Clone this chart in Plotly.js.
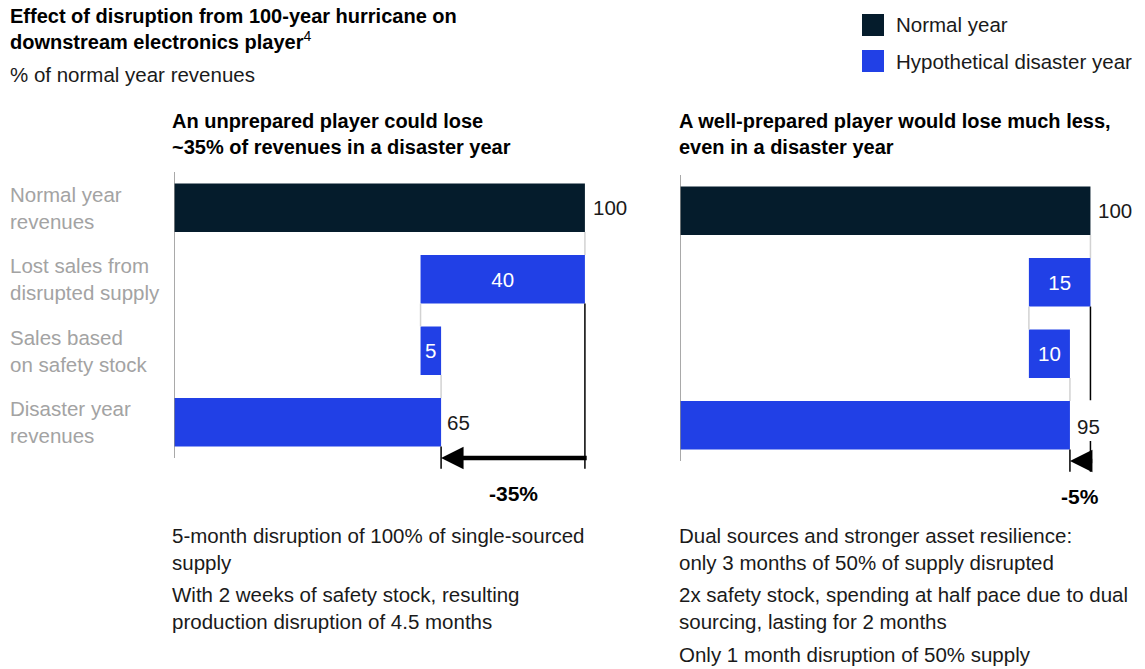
<!DOCTYPE html>
<html><head><meta charset="utf-8">
<script src="https://cdn.plot.ly/plotly-3.0.1.min.js"></script>
<style>html,body{margin:0;padding:0;background:#fff}#chart{width:1145px;height:669px}</style>
</head><body><div id="chart"></div>
<script>
// ---- data ----
const categories = ["Normal year<br>revenues", "Lost sales from<br>disrupted supply", "Sales based<br>on safety stock", "Disaster year<br>revenues"];
const unpreparedValues = [100, 40, 5, 65];   // normal, lost, safety stock, disaster
const preparedValues = [100, 15, 10, 95];
const unpreparedChange = "-35%";
const preparedChange = "-5%";
const seriesNames = ["Normal year", "Hypothetical disaster year"];
const panelTitles = [
  "<b>An unprepared player could lose<br>~35% of revenues in a disaster year</b>",
  "<b>A well-prepared player would lose much less,<br>even in a disaster year</b>"
];
const notesLeft = [
  "5-month disruption of 100% of single-sourced<br>supply",
  "With 2 weeks of safety stock, resulting<br>production disruption of 4.5 months"
];
const notesRight = [
  "Dual sources and stronger asset resilience:<br>only 3 months of 50% of supply disrupted",
  "2x safety stock, spending at half pace due to dual<br>sourcing, lasting for 2 months",
  "Only 1 month disruption of 50% supply"
];

// ---- style ----
const NAVY = "#051c2c", BLUE = "#2140e6", TXT = "#1a1a1a", GRAY = "#a3a3a3";
const FONT = "Liberation Sans, Arial, sans-serif";
const FS = 20.5;
const W = 1145, H = 669;
const px = v => v / W, py = v => 1 - v / H;
const BW = 0.68;

const traces = [], shapes = [], annotations = [];

function panel(values, change, xa, ya, changeTop, valueLabelBelow) {
  const xr = xa, yr = ya;
  const normal = values[0], lost = values[1], safety = values[2], disaster = values[3];
  const bases = [normal - lost, normal - lost, 0];
  const yIdx = [0, 1, 2, 3];
  traces.push({
    type: "bar", orientation: "h", xaxis: xr, yaxis: yr,
    y: [yIdx[0]], x: [normal], base: [0], width: BW,
    marker: {color: NAVY}, name: seriesNames[0], showlegend: false, hoverinfo: "skip"
  });
  traces.push({
    type: "bar", orientation: "h", xaxis: xr, yaxis: yr,
    y: yIdx.slice(1), x: [lost, safety, disaster], base: bases, width: BW,
    marker: {color: BLUE}, name: seriesNames[1], showlegend: false, hoverinfo: "skip",
    text: [String(lost), String(safety), ""], textposition: "inside",
    insidetextanchor: "middle", constraintext: "none",
    textfont: {color: "#ffffff", size: FS, family: FONT}
  });
  // axis baseline
  shapes.push({type: "line", xref: xr, yref: yr, x0: 0, x1: 0, y0: -0.5, y1: 3.5,
    line: {color: "#8c8c8c", width: 1.5}});
  // connectors
  const ends = [normal, normal - lost, disaster];
  ends.forEach((e, i) => shapes.push({type: "line", xref: xr, yref: yr, x0: e, x1: e,
    y0: i + BW / 2, y1: i + 1 - BW / 2, line: {color: "#d2d2d2", width: 1.5}}));
  // black delta lines
  if (valueLabelBelow) {
    shapes.push({type: "line", xref: xr, yref: yr, x0: normal, x1: normal, y0: 1 + BW / 2, y1: 2.65,
      line: {color: "#000", width: 1.5}});
    shapes.push({type: "line", xref: xr, yref: yr, x0: normal, x1: normal, y0: 3.22, y1: 3.65,
      line: {color: "#000", width: 1.5}});
  } else {
    shapes.push({type: "line", xref: xr, yref: yr, x0: normal, x1: normal, y0: 1 + BW / 2, y1: 3.65,
      line: {color: "#000", width: 1.5}});
  }
  shapes.push({type: "line", xref: xr, yref: yr, x0: disaster, x1: disaster, y0: 3 + BW / 2, y1: 3.65,
    line: {color: "#000", width: 1.5}});
  // arrow
  annotations.push({xref: xr, yref: yr, axref: xr, ayref: yr, x: disaster, y: 3.5,
    ax: normal + 0.8, ay: 3.5, text: "", showarrow: true, arrowhead: 2, arrowsize: 1,
    arrowwidth: 4.5, arrowcolor: "#000", standoff: 0, startstandoff: 0});
  annotations.push({xref: xr, yref: "paper", x: (normal + disaster) / 2, y: py(changeTop), text: "<b>" + change + "</b>",
    showarrow: false, font: {size: 21, color: "#000", family: FONT}, xanchor: "center", yanchor: "middle"});
  // value labels
  annotations.push({xref: xr, yref: yr, x: normal, y: 0, text: String(normal), showarrow: false,
    xanchor: "left", xshift: 6, font: {size: FS, color: TXT, family: FONT}});
  if (valueLabelBelow) {
    annotations.push({xref: xr, yref: yr, x: normal, y: 3, text: String(disaster), showarrow: false,
      xanchor: "center", xshift: -2, yshift: -1, font: {size: FS, color: TXT, family: FONT}});
  } else {
    annotations.push({xref: xr, yref: yr, x: disaster, y: 3, text: String(disaster), showarrow: false,
      xanchor: "left", xshift: 4, font: {size: FS, color: TXT, family: FONT}});
  }
}

panel(unpreparedValues, unpreparedChange, "x", "y", 494, false);
panel(preparedValues, preparedChange, "x2", "y2", 496, true);

// category labels
categories.forEach((c, i) => annotations.push({xref: "paper", yref: "y", x: px(8), y: i, text: c,
  showarrow: false, xanchor: "left", align: "left", font: {size: FS, color: GRAY, family: FONT}}));

// titles
annotations.push({xref: "paper", yref: "paper", x: px(8), y: py(3), xanchor: "left", yanchor: "top", align: "left",
  showarrow: false, text: "<b>Effect of disruption from 100-year hurricane on<br>downstream electronics player</b><sup>4</sup>",
  font: {size: 20, color: "#000", family: FONT}});
annotations.push({xref: "paper", yref: "paper", x: px(8), y: py(61), xanchor: "left", yanchor: "top", align: "left",
  showarrow: false, text: "% of normal year revenues", font: {size: FS, color: TXT, family: FONT}});
annotations.push({xref: "paper", yref: "paper", x: px(170), y: py(108), xanchor: "left", yanchor: "top", align: "left",
  showarrow: false, text: panelTitles[0], font: {size: 20, color: "#000", family: FONT}});
annotations.push({xref: "paper", yref: "paper", x: px(677), y: py(108), xanchor: "left", yanchor: "top", align: "left",
  showarrow: false, text: panelTitles[1], font: {size: 20, color: "#000", family: FONT}});

// notes
const noteTopsL = [522, 581];
notesLeft.forEach((t, i) => annotations.push({xref: "paper", yref: "paper", x: px(170), y: py(noteTopsL[i]),
  xanchor: "left", yanchor: "top", align: "left", showarrow: false, text: t, font: {size: FS, color: TXT, family: FONT}}));
const noteTopsR = [522, 581, 641];
notesRight.forEach((t, i) => annotations.push({xref: "paper", yref: "paper", x: px(677), y: py(noteTopsR[i]),
  xanchor: "left", yanchor: "top", align: "left", showarrow: false, text: t, font: {size: FS, color: TXT, family: FONT}}));

// legend
[NAVY, BLUE].forEach((c, i) => {
  const top = 14 + i * 36;
  shapes.push({type: "rect", xref: "paper", yref: "paper", x0: px(862), x1: px(884), y0: py(top + 22), y1: py(top),
    fillcolor: c, line: {width: 0}});
  annotations.push({xref: "paper", yref: "paper", x: px(894), y: py(top + 11), xanchor: "left", yanchor: "middle",
    showarrow: false, text: seriesNames[i], font: {size: FS, color: TXT, family: FONT}});
});

const hiddenAxis = {showgrid: false, zeroline: false, showticklabels: false, showline: false, ticks: "", fixedrange: true};
const layout = {
  width: W, height: H, margin: {l: 0, r: 0, t: 0, b: 0}, paper_bgcolor: "#fff", plot_bgcolor: "rgba(0,0,0,0)",
  showlegend: false, barmode: "overlay", font: {family: FONT},
  xaxis: Object.assign({}, hiddenAxis, {domain: [px(174), px(626)], range: [0, 110]}),
  yaxis: Object.assign({}, hiddenAxis, {domain: [py(483), py(172)], range: [3.85, -0.5]}),
  xaxis2: Object.assign({}, hiddenAxis, {domain: [px(680), px(1131.5)], range: [0, 110], anchor: "y2"}),
  yaxis2: Object.assign({}, hiddenAxis, {domain: [py(486), py(175)], range: [3.85, -0.5], anchor: "x2"}),
  shapes: shapes, annotations: annotations
};
Plotly.newPlot("chart", traces, layout, {displayModeBar: false, staticPlot: true});
</script></body></html>
